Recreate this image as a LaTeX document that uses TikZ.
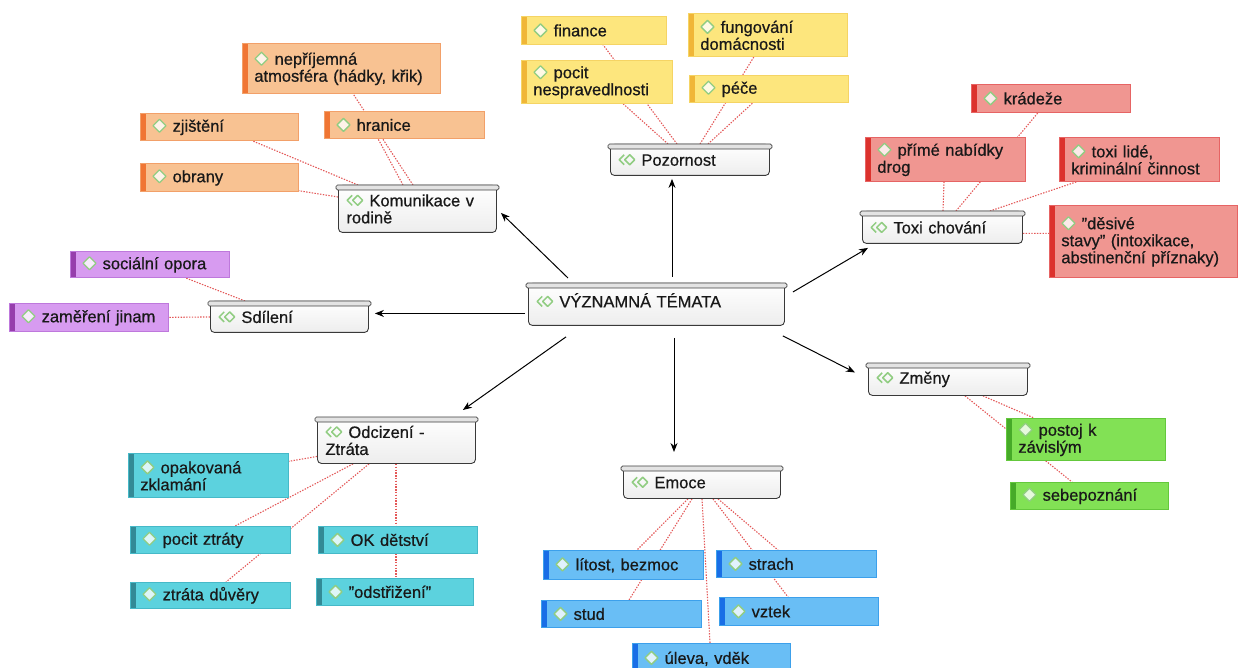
\documentclass[tikz,border=0pt]{standalone}
\usepackage{fontspec}
\setmainfont{Liberation Sans}[FakeBold=0.6]
\usetikzlibrary{arrows.meta,calc,backgrounds}
\definecolor{txt}{RGB}{25,25,25}
\definecolor{icg}{RGB}{145,205,130}
\definecolor{relc}{RGB}{228,88,88}
\definecolor{orF}{RGB}{248,194,146}\definecolor{orS}{RGB}{240,118,52}\definecolor{orB}{RGB}{242,160,105}
\definecolor{yeF}{RGB}{253,230,125}\definecolor{yeS}{RGB}{240,182,55}\definecolor{yeB}{RGB}{245,212,100}
\definecolor{reF}{RGB}{240,150,145}\definecolor{reS}{RGB}{220,50,45}\definecolor{reB}{RGB}{230,100,100}
\definecolor{puF}{RGB}{215,155,240}\definecolor{puS}{RGB}{150,62,172}\definecolor{puB}{RGB}{190,120,220}
\definecolor{teF}{RGB}{92,210,222}\definecolor{teS}{RGB}{50,138,150}\definecolor{teB}{RGB}{70,185,200}
\definecolor{blF}{RGB}{105,190,245}\definecolor{blS}{RGB}{25,110,230}\definecolor{blB}{RGB}{60,160,235}
\definecolor{grF}{RGB}{130,225,85}\definecolor{grS}{RGB}{70,170,40}\definecolor{grB}{RGB}{100,200,60}
\colorlet{icorF}{white!80!orF}\colorlet{icyeF}{white!80!yeF}\colorlet{icreF}{white!80!reF}
\colorlet{icpuF}{white!80!puF}\colorlet{icteF}{white!80!teF}\colorlet{icblF}{white!80!blF}\colorlet{icgrF}{white!80!grF}
\newsavebox\ticbox
\newsavebox\icor\newsavebox\icye\newsavebox\icre\newsavebox\icpu\newsavebox\icte\newsavebox\icbl\newsavebox\icgr
\newcommand\mkic[2]{\sbox#1{\begin{pgfpicture}\pgfsetbaseline{-6pt}\pgfsetlinewidth{1.3pt}\pgfsetroundjoin
  \pgfsetstrokecolor{icg}\pgfsetfillcolor{#2}%
  \pgfpathmoveto{\pgfpoint{0pt}{0pt}}\pgfpathlineto{\pgfpoint{6.5pt}{6.5pt}}\pgfpathlineto{\pgfpoint{13pt}{0pt}}\pgfpathlineto{\pgfpoint{6.5pt}{-6.5pt}}\pgfpathclose
  \pgfusepath{fill,stroke}\end{pgfpicture}}}
\newcommand\lic[1]{\usebox{#1}\hspace{6pt}}
\newcommand\tic{\usebox{\ticbox}\hspace{6pt}}
\newcommand\qd{\char34\relax}
\tikzset{
  base/.style={anchor=north west, align=left, font=\fontsize{16.5}{17}\selectfont, text=txt, inner ysep=2pt},
  leaf/.style n args={3}{base, draw=#3, fill=#1, line width=0.7pt, inner xsep=12pt,
    path picture={\fill[#2] (path picture bounding box.north west) rectangle ([xshift=6pt]path picture bounding box.south west);}},
  orleaf/.style={leaf={orF}{orS}{orB}},
  yeleaf/.style={leaf={yeF}{yeS}{yeB}},
  releaf/.style={leaf={reF}{reS}{reB}},
  puleaf/.style={leaf={puF}{puS}{puB}},
  teleaf/.style={leaf={teF}{teS}{teB}},
  blleaf/.style={leaf={blF}{blS}{blB}},
  grleaf/.style={leaf={grF}{grS}{grB}},
  topic/.style={base, draw=gray!45!black, line width=0.9pt, top color=white, bottom color=gray!14,
    rounded corners=4pt, inner xsep=8pt},
  topbar/.style={draw=gray!50!black, fill=gray!22, line width=0.7pt, rounded corners=1.5pt},
  relline/.style={draw=relc, line width=1.1pt, dash pattern=on 1.4pt off 1.4pt},
  arr/.style={draw=black, line width=1pt, -{Stealth[length=9pt,width=7pt]}}
}
\newcommand\tbar[1]{\draw[topbar] ([xshift=-2pt]#1.north west) rectangle ([xshift=2pt,yshift=-5pt]#1.north east);}
\begin{document}
\sbox\ticbox{\begin{pgfpicture}\pgfsetbaseline{-6pt}\pgfsetlinewidth{1.5pt}\pgfsetroundjoin\pgfsetstrokecolor{icg}%
  \pgfpathmoveto{\pgfpoint{5pt}{5pt}}\pgfpathlineto{\pgfpoint{0pt}{0pt}}\pgfpathlineto{\pgfpoint{5pt}{-5pt}}\pgfusepath{stroke}%
  \pgfpathmoveto{\pgfpoint{5.5pt}{0pt}}\pgfpathlineto{\pgfpoint{10.5pt}{5pt}}\pgfpathlineto{\pgfpoint{15.5pt}{0pt}}\pgfpathlineto{\pgfpoint{10.5pt}{-5pt}}\pgfpathclose\pgfusepath{stroke}%
  \end{pgfpicture}}%
\mkic\icor{icorF}\mkic\icye{icyeF}\mkic\icre{icreF}\mkic\icpu{icpuF}\mkic\icte{icteF}\mkic\icbl{icblF}\mkic\icgr{icgrF}%
\begin{tikzpicture}[x=1pt,y=-1pt]
\useasboundingbox (0,0) rectangle (1245,668);
\begin{scope}[on background layer]
\fill[white] (0,0) rectangle (1245,668);
\end{scope}
% central
\node[topic, text width=240pt, minimum height=42pt, text height=18pt, text depth=12pt] (C) at (528,283) {\tic VÝZNAMNÁ TÉMATA};
% topics
\node[topic, text width=143pt, minimum height=31pt] (poz) at (610,144) {\tic Pozornost};
\node[topic, text width=142pt, minimum height=47pt] (kom) at (338,185) {\tic Komunikace v\\rodině};
\node[topic, text width=144pt, minimum height=32pt] (tox) at (862,211) {\tic Toxi chování};
\node[topic, text width=142pt, minimum height=31pt] (sdi) at (210,301) {\tic Sdílení};
\node[topic, text width=143pt, minimum height=32pt] (zme) at (868,363) {\tic Změny};
\node[topic, text width=142pt, minimum height=46pt] (odc) at (317,417) {\tic Odcizení -\\Ztráta};
\node[topic, text width=141pt, minimum height=32pt] (emo) at (623,466) {\tic Emoce};
\foreach \n in {C,poz,kom,tox,sdi,zme,odc,emo} {\tbar{\n}}
% orange
\node[orleaf, text width=174pt, minimum height=50pt] (nep) at (242,43) {\lic\icor nepříjemná\\atmosféra (hádky, křik)};
\node[orleaf, text width=134pt, minimum height=27pt] (zji) at (140,113) {\lic\icor zjištění};
\node[orleaf, text width=136pt, minimum height=27pt] (hra) at (324,111) {\lic\icor hranice};
\node[orleaf, text width=134pt, minimum height=28pt] (obr) at (140,163) {\lic\icor obrany};
% yellow
\node[yeleaf, text width=121pt, minimum height=28pt] (fin) at (521,16) {\lic\icye finance};
\node[yeleaf, text width=127pt, minimum height=43pt] (poc) at (521,60) {\lic\icye pocit\\nespravedlnosti};
\node[yeleaf, text width=135pt, minimum height=43pt] (fun) at (688,13) {\lic\icye fungování\\domácnosti};
\node[yeleaf, text width=135pt, minimum height=27pt] (pec) at (689,75) {\lic\icye péče};
% red
\node[releaf, text width=135pt, minimum height=28pt] (kra) at (971,84) {\lic\icre krádeže};
\node[releaf, text width=136pt, minimum height=44pt] (pri) at (865,137) {\lic\icre přímé nabídky\\drog};
\node[releaf, text width=136pt, minimum height=44pt] (lid) at (1059,137) {\lic\icre toxi lidé,\\kriminální činnost};
\node[releaf, text width=164pt, minimum height=72pt] (des) at (1049,205) {\lic\icre \qd děsivé\\stavy\qd{} (intoxikace,\\abstinenční příznaky)};
% purple
\node[puleaf, text width=135pt, minimum height=26pt] (soc) at (70,251) {\lic\icpu sociální opora};
\node[puleaf, text width=135pt, minimum height=28pt] (zam) at (9,303) {\mbox{\lic\icpu zaměření jinam}};
% teal
\node[teleaf, text width=136pt, minimum height=44pt] (opa) at (128,453) {\lic\icte opakovaná\\zklamání};
\node[teleaf, text width=136pt, minimum height=27pt] (pzt) at (130,526) {\lic\icte pocit ztráty};
\node[teleaf, text width=136pt, minimum height=26pt] (zdu) at (130,582) {\lic\icte ztráta důvěry};
\node[teleaf, text width=135pt, minimum height=27pt] (okd) at (318,526) {\lic\icte OK dětství};
\node[teleaf, text width=133pt, minimum height=27pt] (ods) at (316,578) {\lic\icte \qd odstřižení\qd};
% blue
\node[blleaf, text width=136pt, minimum height=29pt] (lit) at (543,550) {\lic\icbl lítost, bezmoc};
\node[blleaf, text width=136pt, minimum height=27pt] (stu) at (541,600) {\lic\icbl stud};
\node[blleaf, text width=136pt, minimum height=27pt] (str) at (716,550) {\lic\icbl strach};
\node[blleaf, text width=135pt, minimum height=28pt] (vzt) at (719,597) {\lic\icbl vztek};
\node[blleaf, text width=134pt, minimum height=30pt] (ule) at (632,643) {\lic\icbl úleva, vděk};
% green
\node[grleaf, text width=135pt, minimum height=42pt] (pos) at (1006,418) {\lic\icgr postoj k\\závislým};
\node[grleaf, text width=134pt, minimum height=27pt] (seb) at (1010,482) {\lic\icgr sebepoznání};
% dotted relations
\begin{scope}[on background layer]
\draw[relline] ($(kom.north west)+(20,0)$) -- ($(zji.south west)+(112,0)$);
\draw[relline] ($(kom.north west)+(0,12)$) -- ($(obr.south east)+(0,-1)$);
\draw[relline] ($(kom.north west)+(65,0)$) -- ($(hra.south west)+(54,0)$);
\draw[relline] ($(kom.north west)+(75,0)$) -- ($(nep.south west)+(111,0)$);
\draw[relline] ($(poz.north west)+(67,0)$) -- ($(fin.south west)+(82,0)$);
\draw[relline] ($(poz.north west)+(58,0)$) -- ($(poc.south west)+(102,0)$);
\draw[relline] ($(poz.north west)+(90,0)$) -- ($(fun.south west)+(66,0)$);
\draw[relline] ($(poz.north west)+(98,0)$) -- ($(pec.south west)+(64,0)$);
\draw[relline] ($(tox.north west)+(94,0)$) -- ($(kra.south west)+(67,0)$);
\draw[relline] ($(tox.north west)+(81,0)$) -- ($(pri.south west)+(79,0)$);
\draw[relline] ($(tox.north west)+(128,0)$) -- ($(lid.south west)+(18,0)$);
\draw[relline] ($(tox.east)+(0,6)$) -- ($(des.west)+(0,-8)$);
\draw[relline] ($(sdi.north west)+(35,0)$) -- ($(soc.south west)+(115,0)$);
\draw[relline] (sdi.west) -- (zam.east);
\draw[relline] ($(odc.west)+(0,16)$) -- ($(opa.east)+(0,-14)$);
\draw[relline] ($(odc.south west)+(36,0)$) -- ($(pzt.north west)+(105,0)$);
\draw[relline] ($(odc.south west)+(52,0)$) -- ($(zdu.north west)+(96,0)$);
\draw[relline] ($(odc.south west)+(79,0)$) -- ($(okd.north west)+(78,0)$);
\draw[relline] ($(odc.south west)+(79,0)$) -- ($(ods.north west)+(80,0)$);
\draw[relline] ($(emo.south west)+(65,0)$) -- ($(lit.north west)+(94,0)$);
\draw[relline] ($(emo.south west)+(69,0)$) -- ($(stu.north west)+(88,0)$);
\draw[relline] ($(emo.south west)+(79,0)$) -- ($(ule.north west)+(78,0)$);
\draw[relline] ($(emo.south west)+(95,0)$) -- ($(str.north west)+(62,0)$);
\draw[relline] ($(emo.south west)+(90,0)$) -- ($(vzt.north west)+(69,0)$);
\draw[relline] ($(zme.south west)+(115,0)$) -- ($(pos.north west)+(28,0)$);
\draw[relline] ($(zme.south west)+(97,0)$) -- ($(seb.north west)+(62,0)$);
\end{scope}
% arrows
\draw[arr] ($(C.north west)+(144,-6)$) -- ($(poz.south west)+(62,3)$);
\draw[arr] ($(C.north west)+(40,-5)$) -- ($(kom.south east)+(4,-20)$);
\draw[arr] ($(C.north east)+(8,9)$) -- ($(tox.south west)+(6,4)$);
\draw[arr] ($(C.west)+(-3,9)$) -- ($(sdi.east)+(6,-3.5)$);
\draw[arr] ($(C.south east)+(-2,10)$) -- ($(zme.west)+(-13,-7)$);
\draw[arr] ($(C.south west)+(38,11)$) -- ($(odc.north east)+(-13,-7)$);
\draw[arr] ($(C.south west)+(146,12)$) -- ($(emo.north west)+(51,-14)$);
\end{tikzpicture}
\end{document}
